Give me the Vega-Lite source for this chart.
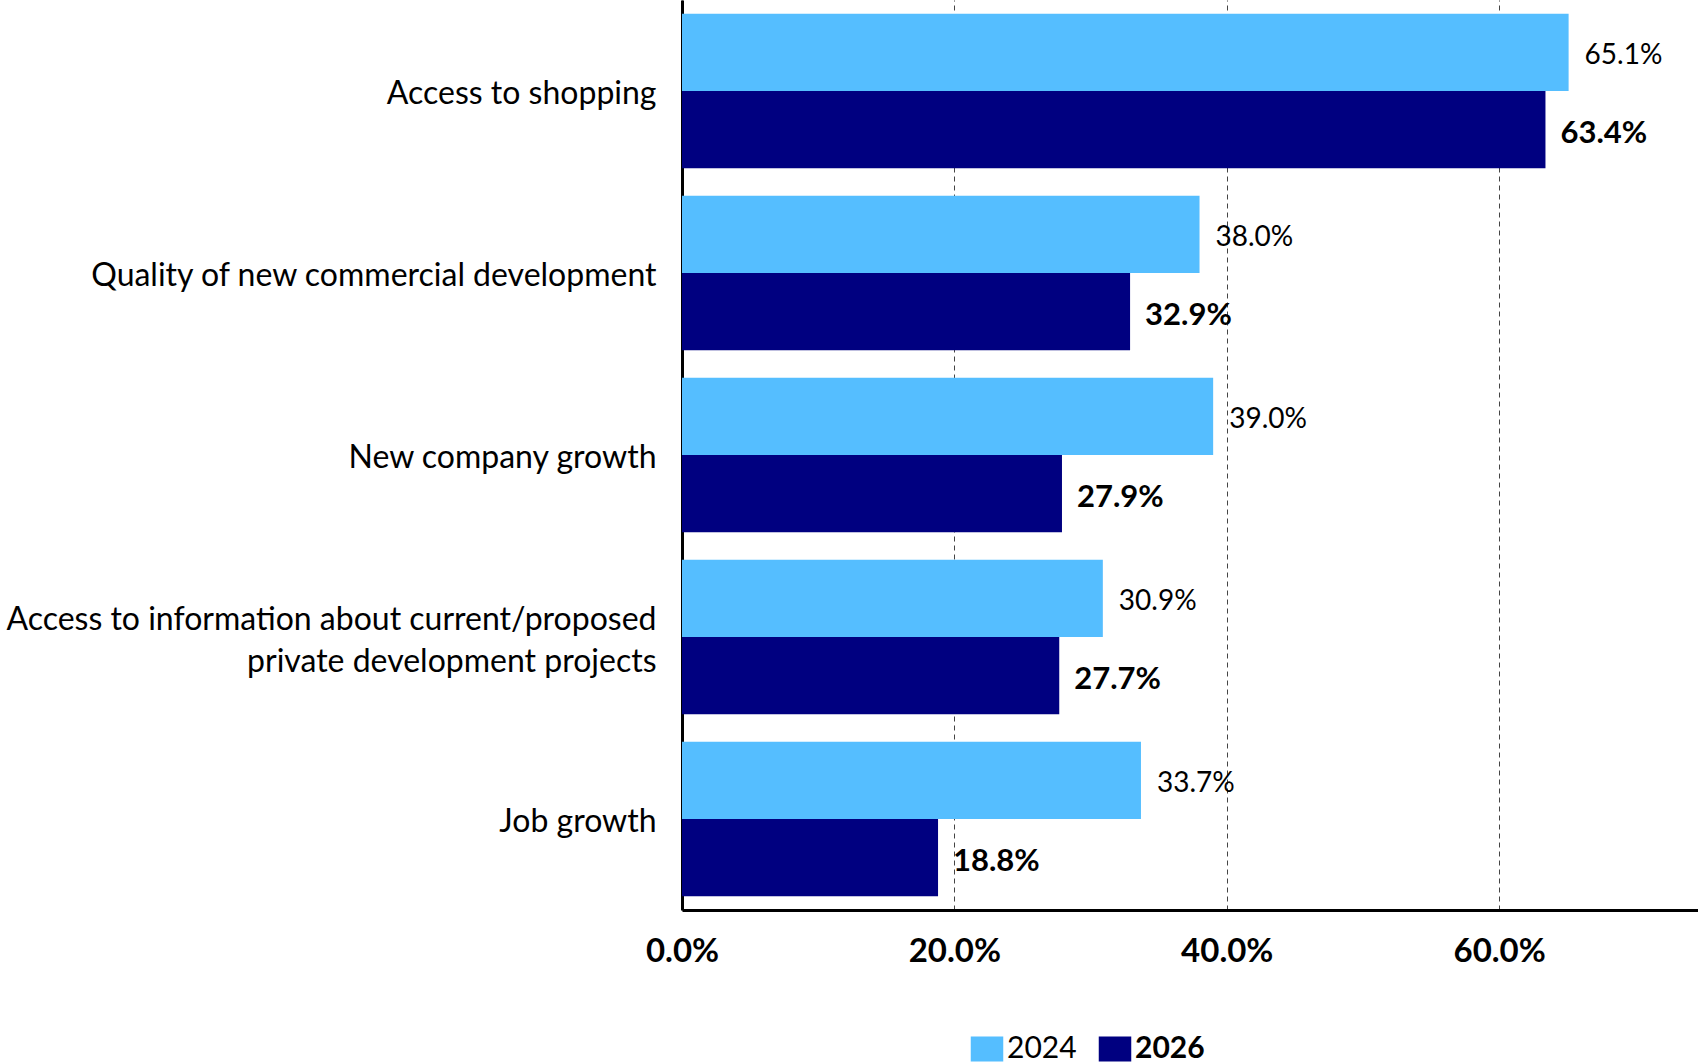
{
  "$schema": "https://vega.github.io/schema/vega-lite/v6.json",
  "autosize": {"type": "none"},
  "padding": {"left": 682, "top": 0, "right": 0, "bottom": 154},
  "width": 1016,
  "height": 910,
  "background": "white",
  "config": {"view": {"stroke": null}, "font": "Lato"},
  "data": {"values": [
    {"category": "Access to shopping", "year": "2024", "value": 0.651},
    {"category": "Access to shopping", "year": "2026", "value": 0.634},
    {"category": "Quality of new commercial development", "year": "2024", "value": 0.380},
    {"category": "Quality of new commercial development", "year": "2026", "value": 0.329},
    {"category": "New company growth", "year": "2024", "value": 0.390},
    {"category": "New company growth", "year": "2026", "value": 0.279},
    {"category": "Access to information about current/proposed private development projects", "year": "2024", "value": 0.309},
    {"category": "Access to information about current/proposed private development projects", "year": "2026", "value": 0.277},
    {"category": "Job growth", "year": "2024", "value": 0.337},
    {"category": "Job growth", "year": "2026", "value": 0.188}
  ]},
  "encoding": {
    "y": {
      "field": "category", "type": "nominal", "sort": null,
      "scale": {"paddingInner": 0.15, "paddingOuter": 0.075},
      "axis": {
        "title": null, "ticks": false, "domainColor": "black", "domainWidth": 3,
        "labelFontSize": 32, "labelColor": "black", "labelPadding": 26, "labelLimit": 0,
        "labelLineHeight": 42,
        "labelOffset": {"condition": {"test": "datum.value == 'Access to information about current/proposed private development projects'", "value": -17}, "value": 3},
        "labelExpr": "datum.value == 'Access to information about current/proposed private development projects' ? ['Access to information about current/proposed', 'private development projects'] : datum.label"
      }
    },
    "yOffset": {"field": "year", "type": "nominal", "sort": ["2024", "2026"]},
    "x": {
      "field": "value", "type": "quantitative",
      "scale": {"domain": [0, 0.746], "nice": false, "zero": true},
      "axis": {
        "title": null, "format": ".1%", "values": [0, 0.2, 0.4, 0.6],
        "ticks": false, "domainColor": "black", "domainWidth": 3,
        "labelFontSize": 33, "labelFontWeight": "bold", "labelColor": "black", "labelPadding": 25,
        "labelFlush": false, "labelAlign": "center",
        "grid": true, "gridColor": "#444", "gridDash": [5, 4], "gridWidth": 1
      }
    }
  },
  "layer": [
    {
      "mark": {"type": "bar"},
      "encoding": {
        "color": {
          "field": "year", "type": "nominal",
          "scale": {"domain": ["2024", "2026"], "range": ["#55BEFF", "#000080"]},
          "legend": {
            "title": null, "orient": "none", "direction": "horizontal",
            "legendX": 290, "legendY": 1034,
            "symbolType": "M-1.3,-1H1.3V1H-1.3Z", "symbolSize": 625, "symbolStrokeWidth": 0,
            "labelFontSize": 30, "labelColor": "black", "labelOffset": 5, "columnPadding": 21,
            "encode": {"labels": {"update": {"fontWeight": {"signal": "datum.label == '2026' ? 'bold' : 'normal'"}}}}
          }
        }
      }
    },
    {
      "transform": [{"filter": "datum.year == '2024'"}],
      "mark": {"type": "text", "align": "left", "baseline": "middle", "dx": 16, "dy": 4, "fontSize": 28, "color": "black"},
      "encoding": {"text": {"field": "value", "type": "quantitative", "format": ".1%"}}
    },
    {
      "transform": [{"filter": "datum.year == '2026'"}],
      "mark": {"type": "text", "align": "left", "baseline": "middle", "dx": 15, "dy": 4, "fontSize": 31, "fontWeight": "bold", "color": "black"},
      "encoding": {"text": {"field": "value", "type": "quantitative", "format": ".1%"}}
    }
  ]
}
